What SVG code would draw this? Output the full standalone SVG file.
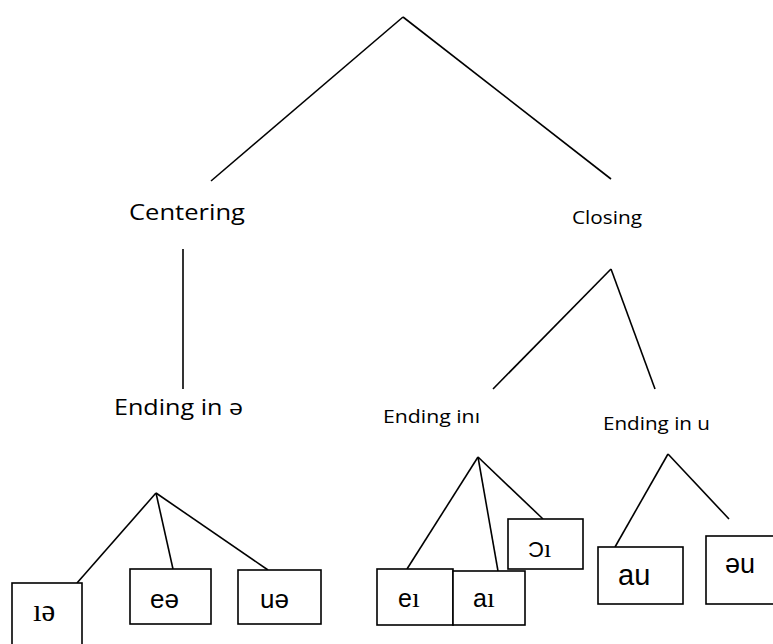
<svg xmlns="http://www.w3.org/2000/svg" width="773" height="644" viewBox="0 0 773 644">
<style>
.ln{stroke:#000;stroke-width:1.6;fill:none}
.bx{stroke:#000;stroke-width:1.6;fill:#fff}
.lbl{font-family:"Open Sans","Liberation Sans",sans-serif;fill:#000}
.ph{font-family:"Liberation Sans",Arial,sans-serif;fill:#000}
.sr{font-family:"Liberation Serif","Times New Roman",serif}
</style>
<rect width="773" height="644" fill="#fff"/>
<g id="connectors">
<line class="ln" x1="403" y1="17" x2="211" y2="181"/>
<line class="ln" x1="403" y1="17" x2="611" y2="179"/>
<line class="ln" x1="183" y1="249" x2="183" y2="389"/>
<line class="ln" x1="611" y1="269" x2="493" y2="389"/>
<line class="ln" x1="611" y1="269" x2="655" y2="389"/>
<line class="ln" x1="156" y1="493" x2="77" y2="583"/>
<line class="ln" x1="156" y1="493" x2="173" y2="569"/>
<line class="ln" x1="156" y1="493" x2="268" y2="570"/>
<line class="ln" x1="478" y1="457" x2="407" y2="569"/>
<line class="ln" x1="478" y1="457" x2="498" y2="571"/>
<line class="ln" x1="478" y1="457" x2="543" y2="519"/>
<line class="ln" x1="668" y1="454" x2="615" y2="547"/>
<line class="ln" x1="668" y1="454" x2="729" y2="519"/>
</g>
<g id="centering"><text class="lbl" x="129" y="220" font-size="22" textLength="116" lengthAdjust="spacingAndGlyphs">Centering</text></g>
<g id="closing"><text class="lbl" x="572" y="224" font-size="18" textLength="70" lengthAdjust="spacingAndGlyphs">Closing</text></g>
<g id="ending-schwa"><text class="lbl" x="114" y="415" font-size="22" textLength="129" lengthAdjust="spacingAndGlyphs">Ending in ə</text></g>
<g id="ending-i"><text class="lbl" x="383" y="423" font-size="18" textLength="97" lengthAdjust="spacingAndGlyphs">Ending inı</text></g>
<g id="ending-u"><text class="lbl" x="603" y="430" font-size="18" textLength="107" lengthAdjust="spacingAndGlyphs">Ending in u</text></g>
<g id="box-ie"><rect class="bx" x="12" y="583" width="70" height="70"/><text class="ph sr" x="33" y="621" font-size="31">ıə</text></g>
<g id="box-ee"><rect class="bx" x="130" y="569" width="81" height="55"/><text class="ph" x="150" y="608" font-size="26">eə</text></g>
<g id="box-ue"><rect class="bx" x="238" y="570" width="83" height="54"/><text class="ph" x="260" y="608" font-size="26">uə</text></g>
<g id="box-ei"><rect class="bx" x="377" y="569" width="76" height="56"/><text class="ph" x="398" y="607" font-size="25">e<tspan class="sr" font-size="28">ı</tspan></text></g>
<g id="box-ai"><rect class="bx" x="453" y="571" width="72" height="54"/><text class="ph" x="473" y="607" font-size="25">a<tspan class="sr" font-size="28">ı</tspan></text></g>
<g id="box-oi"><rect class="bx" x="508" y="519" width="75" height="50"/><text class="ph" x="528" y="557" font-size="22">Ɔ<tspan class="sr" font-size="26">ı</tspan></text></g>
<g id="box-au"><rect class="bx" x="598" y="547" width="85" height="57"/><text class="ph" x="618" y="585" font-size="29">au</text></g>
<g id="box-eu"><rect class="bx" x="706" y="536" width="80" height="68"/><text class="ph" x="725" y="573" font-size="27">əu</text></g>
</svg>
